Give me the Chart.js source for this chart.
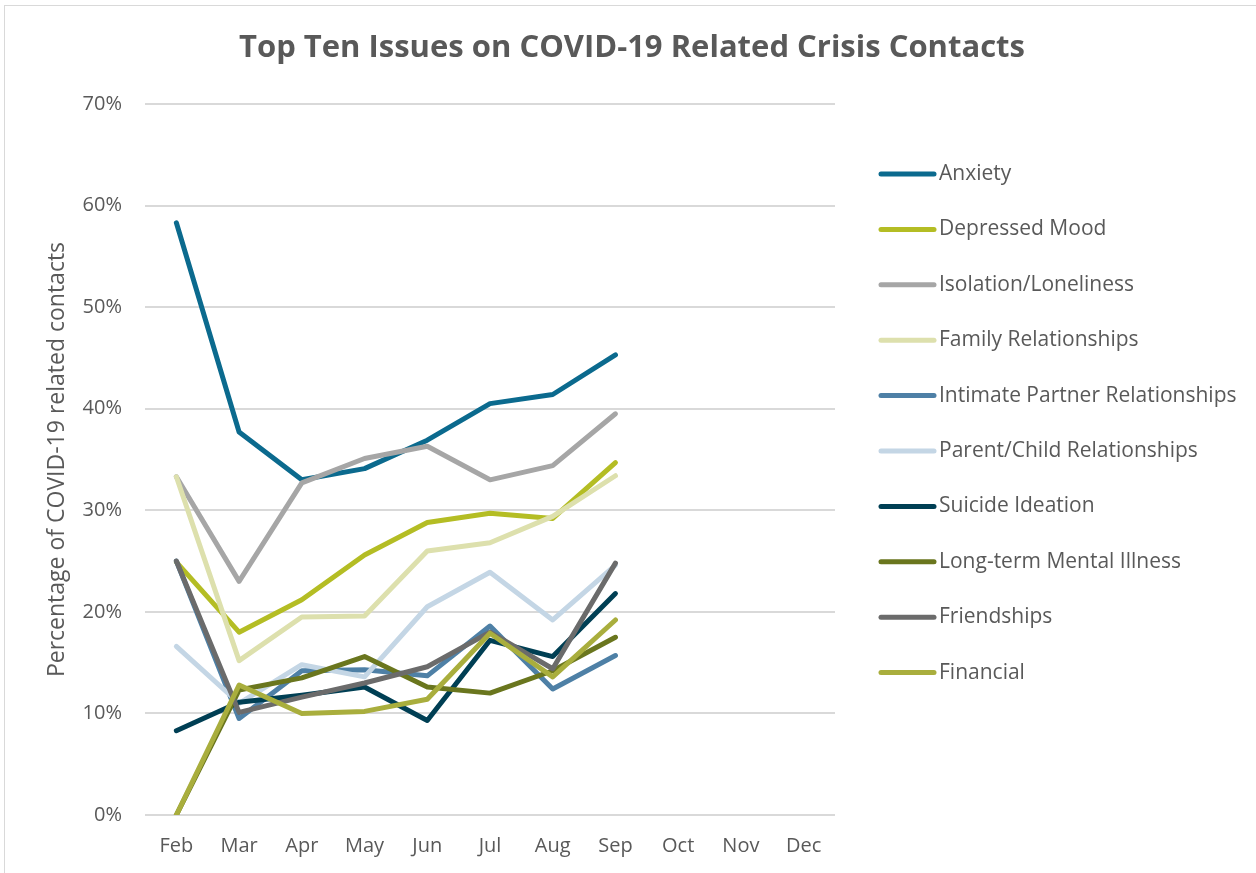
<!DOCTYPE html>
<html>
<head>
<meta charset="utf-8">
<script src="https://cdn.jsdelivr.net/npm/chart.js@4.4.0/dist/chart.umd.min.js"></script>
<style>
  html, body { margin: 0; padding: 0; background: #fff; }
  #wrap { position: relative; width: 1256px; height: 873px; }
</style>
</head>
<body>
<div id="wrap"><canvas id="issuesChart" width="1256" height="873"></canvas></div>
<script>
// Data (percent of COVID-19 related contacts)
const months = ['Feb', 'Mar', 'Apr', 'May', 'Jun', 'Jul', 'Aug', 'Sep', 'Oct', 'Nov', 'Dec'];
const yTicks = [0, 10, 20, 30, 40, 50, 60, 70];

const anxiety = [58.3, 37.7, 33.0, 34.1, 36.9, 40.5, 41.4, 45.3];
const depressedMood = [24.9, 18.0, 21.2, 25.6, 28.8, 29.7, 29.2, 34.7];
const isolation = [33.3, 23.0, 32.7, 35.1, 36.3, 33.0, 34.4, 39.5];
const family = [33.3, 15.2, 19.5, 19.6, 26.0, 26.8, 29.4, 33.4];
const intimatePartner = [25.0, 9.5, 14.2, 14.3, 13.7, 18.6, 12.4, 15.7];
const parentChild = [16.6, 11.0, 14.8, 13.6, 20.5, 23.9, 19.2, 24.6];
const suicideIdeation = [8.3, 11.1, 11.8, 12.6, 9.3, 17.2, 15.6, 21.8];
const longTermIllness = [0, 12.3, 13.5, 15.6, 12.6, 12.0, 14.2, 17.5];
const friendships = [25.0, 10.1, 11.6, 13.0, 14.6, 18.0, 14.4, 24.8];
const financial = [0, 12.8, 10.0, 10.2, 11.4, 17.9, 13.6, 19.2];

const seriesNames = ['Anxiety', 'Depressed Mood', 'Isolation/Loneliness', 'Family Relationships',
  'Intimate Partner Relationships', 'Parent/Child Relationships', 'Suicide Ideation',
  'Long-term Mental Illness', 'Friendships', 'Financial'];
const seriesData = [anxiety, depressedMood, isolation, family, intimatePartner, parentChild,
  suicideIdeation, longTermIllness, friendships, financial];
const seriesColors = ['#0b6a8e', '#b4bd24', '#a6a6a6', '#dde0ad', '#4e80a6', '#c4d6e5',
  '#003f54', '#6a761e', '#6b6b6b', '#a9ae3d'];

const textColor = '#595959';
const fontFamily = '"Open Sans", "Noto Sans", sans-serif';

// border, title and legend drawn on the canvas
const decorPlugin = {
  id: 'decor',
  beforeDraw(chart) {
    const c = chart.ctx;
    c.save();
    c.fillStyle = '#fff';
    c.fillRect(0, 0, chart.width, chart.height);
    c.strokeStyle = '#d9d9d9';
    c.lineWidth = 1;
    c.strokeRect(4.5, 5.5, 1400, 1000);
    c.restore();
  },
  afterDraw(chart) {
    const c = chart.ctx;
    c.save();
    c.fillStyle = textColor;
    c.font = 'bold 31px ' + fontFamily;
    c.textAlign = 'center';
    c.textBaseline = 'middle';
    c.fillText('Top Ten Issues on COVID-19 Related Crisis Contacts', 632, 48);

    c.font = '21px ' + fontFamily;
    c.textAlign = 'left';
    chart.data.datasets.forEach((ds, i) => {
      const y = 174 + i * 55.4;
      c.strokeStyle = ds.borderColor;
      c.lineWidth = 5;
      c.lineCap = 'round';
      c.beginPath();
      c.moveTo(881, y);
      c.lineTo(934, y);
      c.stroke();
      c.fillStyle = textColor;
      c.fillText(ds.label, 939, y);
    });
    c.restore();
  }
};

const ctx = document.getElementById('issuesChart').getContext('2d');
new Chart(ctx, {
  type: 'line',
  data: {
    labels: months,
    datasets: seriesNames.map((name, i) => ({
      label: name,
      data: seriesData[i],
      borderColor: seriesColors[i],
      backgroundColor: seriesColors[i],
      borderWidth: 5,
      borderCapStyle: 'round',
      borderJoinStyle: 'round',
      pointRadius: 0,
      tension: 0,
      order: seriesNames.length - i
    }))
  },
  options: {
    responsive: false,
    animation: false,
    layout: { padding: { left: 36, right: 421, top: 104, bottom: 0 } },
    plugins: {
      legend: { display: false },
      title: { display: false },
      tooltip: { enabled: false }
    },
    scales: {
      x: {
        offset: true,
        grid: { display: false, drawTicks: false },
        border: { display: false },
        ticks: { color: textColor, font: { family: fontFamily, size: 20 }, padding: 19 },
        afterFit(scale) { scale.height = 58; }
      },
      y: {
        min: 0,
        max: 70,
        afterBuildTicks(scale) { scale.ticks = yTicks.map(v => ({ value: v })); },
        grid: { color: '#d9d9d9', lineWidth: 2, drawTicks: false },
        border: { display: false },
        ticks: {
          color: textColor,
          font: { family: fontFamily, size: 20 },
          padding: 23,
          callback: v => v + '%'
        },
        title: {
          display: true,
          text: 'Percentage of COVID-19 related contacts',
          color: textColor,
          font: { family: fontFamily, size: 23 },
          padding: { top: 8, bottom: 4 }
        },
        afterFit(scale) { scale.width = 109; }
      }
    }
  },
  plugins: [decorPlugin]
});
</script>
</body>
</html>
